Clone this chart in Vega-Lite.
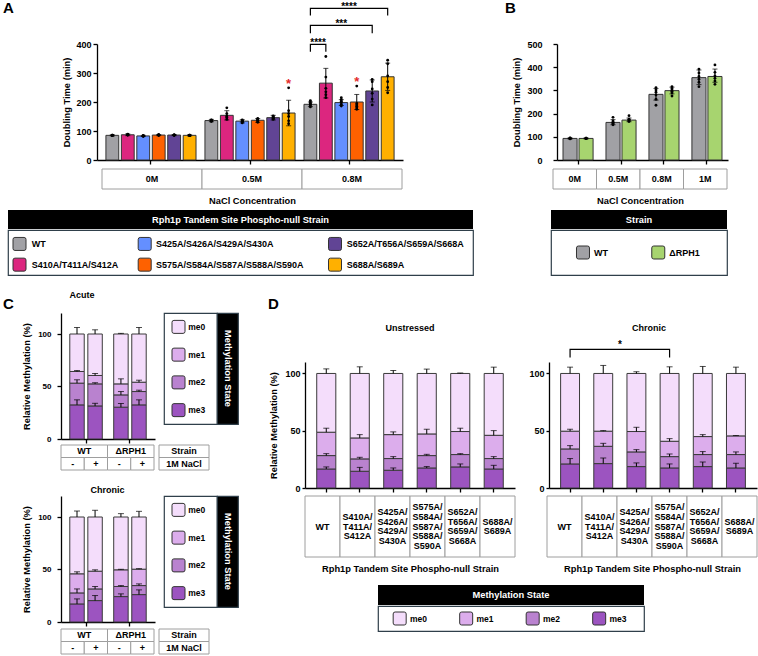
{
"$schema": "https://vega.github.io/schema/vega-lite/v6.json",
"background": "white",
"padding": {"left": 3, "top": 1, "right": 0, "bottom": 0},
"config": {
  "font": "Liberation Sans",
  "view": {"stroke": null},
  "axis": {"labelFont": "Liberation Sans", "titleFont": "Liberation Sans", "labelFontWeight": "bold", "titleFontWeight": "bold", "labelFontSize": 9, "titleFontSize": 9.3, "labelColor": "#000", "titleColor": "#000", "domainColor": "#000", "tickColor": "#000", "domainWidth": 1.3, "tickWidth": 1.3, "grid": false, "labelOverlap": false},
  "title": {"font": "Liberation Sans", "fontWeight": "bold", "fontSize": 9, "color": "#000", "baseline": "alphabetic"},
  "text": {"font": "Liberation Sans", "fontWeight": "bold", "fontSize": 9, "color": "#000"}
},
"datasets": {
  "growthA": [
    {"conc": "0M", "strain": "WT", "mean": 85, "lo": 83, "hi": 87, "reps": [84, 85, 86, 85, 84, 86]},
    {"conc": "0M", "strain": "S410A/T411A/S412A", "mean": 87, "lo": 84, "hi": 90, "reps": [86, 88, 87, 89, 86, 87]},
    {"conc": "0M", "strain": "S425A/S426A/S429A/S430A", "mean": 83, "lo": 81, "hi": 85, "reps": [82, 83, 84, 82, 83, 84]},
    {"conc": "0M", "strain": "S575A/S584A/S587A/S588A/S590A", "mean": 86, "lo": 84, "hi": 88, "reps": [85, 87, 86, 86, 85, 87]},
    {"conc": "0M", "strain": "S652A/T656A/S659A/S668A", "mean": 86, "lo": 84, "hi": 88, "reps": [85, 86, 87, 86, 85, 86]},
    {"conc": "0M", "strain": "S688A/S689A", "mean": 85, "lo": 83, "hi": 87, "reps": [84, 85, 86, 85, 84, 86]},
    {"conc": "0.5M", "strain": "WT", "mean": 136, "lo": 132, "hi": 140, "reps": [133, 135, 137, 138, 136, 134]},
    {"conc": "0.5M", "strain": "S410A/T411A/S412A", "mean": 154, "lo": 138, "hi": 170, "reps": [180, 160, 152, 146, 140, 148]},
    {"conc": "0.5M", "strain": "S425A/S426A/S429A/S430A", "mean": 134, "lo": 128, "hi": 139, "reps": [128, 131, 134, 136, 138, 133]},
    {"conc": "0.5M", "strain": "S575A/S584A/S587A/S588A/S590A", "mean": 137, "lo": 130, "hi": 143, "reps": [130, 133, 137, 140, 143, 138]},
    {"conc": "0.5M", "strain": "S652A/T656A/S659A/S668A", "mean": 146, "lo": 138, "hi": 154, "reps": [140, 144, 147, 150, 152, 143]},
    {"conc": "0.5M", "strain": "S688A/S689A", "mean": 162, "lo": 118, "hi": 206, "reps": [249, 170, 160, 150, 135, 125]},
    {"conc": "0.8M", "strain": "WT", "mean": 192, "lo": 184, "hi": 200, "reps": [183, 188, 192, 196, 200, 205]},
    {"conc": "0.8M", "strain": "S410A/T411A/S412A", "mean": 265, "lo": 214, "hi": 316, "reps": [357, 286, 247, 235, 225, 215]},
    {"conc": "0.8M", "strain": "S425A/S426A/S429A/S430A", "mean": 198, "lo": 188, "hi": 208, "reps": [186, 192, 198, 203, 208, 215]},
    {"conc": "0.8M", "strain": "S575A/S584A/S587A/S588A/S590A", "mean": 200, "lo": 174, "hi": 226, "reps": [255, 195, 190, 185, 180, 175]},
    {"conc": "0.8M", "strain": "S652A/T656A/S659A/S668A", "mean": 238, "lo": 200, "hi": 276, "reps": [278, 270, 245, 230, 210, 190]},
    {"conc": "0.8M", "strain": "S688A/S689A", "mean": 287, "lo": 240, "hi": 334, "reps": [344, 332, 290, 270, 250, 232]}
  ],
  "bracketsA": [
    {"pair": "WT-S410A", "conc": "0.8M", "strain": "WT", "y": 373, "seq": 1},
    {"pair": "WT-S410A", "conc": "0.8M", "strain": "WT", "y": 399, "seq": 2},
    {"pair": "WT-S410A", "conc": "0.8M", "strain": "S410A/T411A/S412A", "y": 399, "seq": 3},
    {"pair": "WT-S410A", "conc": "0.8M", "strain": "S410A/T411A/S412A", "y": 373, "seq": 4},
    {"pair": "WT-S652A", "conc": "0.8M", "strain": "WT", "y": 437, "seq": 1},
    {"pair": "WT-S652A", "conc": "0.8M", "strain": "WT", "y": 464, "seq": 2},
    {"pair": "WT-S652A", "conc": "0.8M", "strain": "S652A/T656A/S659A/S668A", "y": 464, "seq": 3},
    {"pair": "WT-S652A", "conc": "0.8M", "strain": "S652A/T656A/S659A/S668A", "y": 437, "seq": 4},
    {"pair": "WT-S688A", "conc": "0.8M", "strain": "WT", "y": 498, "seq": 1},
    {"pair": "WT-S688A", "conc": "0.8M", "strain": "WT", "y": 523, "seq": 2},
    {"pair": "WT-S688A", "conc": "0.8M", "strain": "S688A/S689A", "y": 523, "seq": 3},
    {"pair": "WT-S688A", "conc": "0.8M", "strain": "S688A/S689A", "y": 498, "seq": 4}
  ],
  "sigA": [
    {"conc": "0.8M", "strain": "WT", "y": 399, "label": "****"},
    {"conc": "0.8M", "strain": "S425A/S426A/S429A/S430A", "y": 464, "label": "***"},
    {"conc": "0.8M", "strain": "S425A/S426A/S429A/S430A", "y": 523, "label": "****"}
  ],
  "starsA": [
    {"conc": "0.5M", "strain": "S688A/S689A", "y": 250},
    {"conc": "0.8M", "strain": "S575A/S584A/S587A/S588A/S590A", "y": 255}
  ],
  "growthB": [
    {"conc": "0M", "strain": "WT", "mean": 93, "lo": 91, "hi": 95, "reps": [91, 92, 93, 94, 93, 95]},
    {"conc": "0M", "strain": "ΔRPH1", "mean": 93, "lo": 91, "hi": 95, "reps": [92, 93, 94, 93, 92, 94]},
    {"conc": "0.5M", "strain": "WT", "mean": 162, "lo": 152, "hi": 174, "reps": [152, 157, 160, 163, 168, 184]},
    {"conc": "0.5M", "strain": "ΔRPH1", "mean": 172, "lo": 165, "hi": 181, "reps": [166, 169, 172, 174, 176, 191]},
    {"conc": "0.8M", "strain": "WT", "mean": 283, "lo": 258, "hi": 308, "reps": [236, 262, 280, 292, 302, 312]},
    {"conc": "0.8M", "strain": "ΔRPH1", "mean": 299, "lo": 285, "hi": 314, "reps": [276, 290, 296, 302, 308, 316]},
    {"conc": "1M", "strain": "WT", "mean": 355, "lo": 325, "hi": 388, "reps": [316, 335, 348, 360, 375, 392]},
    {"conc": "1M", "strain": "ΔRPH1", "mean": 360, "lo": 335, "hi": 392, "reps": [326, 340, 352, 362, 378, 410]}
  ],
  "concA": [{"conc": "0M"}, {"conc": "0.5M"}, {"conc": "0.8M"}],
  "concB": [{"conc": "0M"}, {"conc": "0.5M"}, {"conc": "0.8M"}, {"conc": "1M"}],
  "strainsA": [
    {"strain": "WT"}, {"strain": "S410A/T411A/S412A"}, {"strain": "S425A/S426A/S429A/S430A"},
    {"strain": "S575A/S584A/S587A/S588A/S590A"}, {"strain": "S652A/T656A/S659A/S668A"}, {"strain": "S688A/S689A"}
  ],
  "strainsB": [{"strain": "WT"}, {"strain": "ΔRPH1"}],
  "states": [{"state": "me0"}, {"state": "me1"}, {"state": "me2"}, {"state": "me3"}],
  "methC": [
    {"stress": "Acute", "strain": "WT", "nacl": "-", "state": "me3", "lo": 0, "hi": 32.5, "err": 37.3},
    {"stress": "Acute", "strain": "WT", "nacl": "-", "state": "me2", "lo": 32.5, "hi": 53.2, "err": 56.4},
    {"stress": "Acute", "strain": "WT", "nacl": "-", "state": "me1", "lo": 53.2, "hi": 64.3, "err": 65.2},
    {"stress": "Acute", "strain": "WT", "nacl": "-", "state": "me0", "lo": 64.3, "hi": 100, "err": 106.2},
    {"stress": "Acute", "strain": "WT", "nacl": "+", "state": "me3", "lo": 0, "hi": 31.5, "err": 34},
    {"stress": "Acute", "strain": "WT", "nacl": "+", "state": "me2", "lo": 31.5, "hi": 52.5, "err": 53.6},
    {"stress": "Acute", "strain": "WT", "nacl": "+", "state": "me1", "lo": 52.5, "hi": 60.5, "err": 62.4},
    {"stress": "Acute", "strain": "WT", "nacl": "+", "state": "me0", "lo": 60.5, "hi": 100, "err": 104},
    {"stress": "Acute", "strain": "ΔRPH1", "nacl": "-", "state": "me3", "lo": 0, "hi": 30.3, "err": 33.8},
    {"stress": "Acute", "strain": "ΔRPH1", "nacl": "-", "state": "me2", "lo": 30.3, "hi": 42, "err": 45.2},
    {"stress": "Acute", "strain": "ΔRPH1", "nacl": "-", "state": "me1", "lo": 42, "hi": 52.5, "err": 57.3},
    {"stress": "Acute", "strain": "ΔRPH1", "nacl": "-", "state": "me0", "lo": 52.5, "hi": 100, "err": 100.6},
    {"stress": "Acute", "strain": "ΔRPH1", "nacl": "+", "state": "me3", "lo": 0, "hi": 32.5, "err": 37.3},
    {"stress": "Acute", "strain": "ΔRPH1", "nacl": "+", "state": "me2", "lo": 32.5, "hi": 45.2, "err": 46.5},
    {"stress": "Acute", "strain": "ΔRPH1", "nacl": "+", "state": "me1", "lo": 45.2, "hi": 54.1, "err": 56},
    {"stress": "Acute", "strain": "ΔRPH1", "nacl": "+", "state": "me0", "lo": 54.1, "hi": 100, "err": 106.2},
    {"stress": "Chronic", "strain": "WT", "nacl": "-", "state": "me3", "lo": 0, "hi": 17.2, "err": 22},
    {"stress": "Chronic", "strain": "WT", "nacl": "-", "state": "me2", "lo": 17.2, "hi": 27.7, "err": 31.5},
    {"stress": "Chronic", "strain": "WT", "nacl": "-", "state": "me1", "lo": 27.7, "hi": 45.9, "err": 47.8},
    {"stress": "Chronic", "strain": "WT", "nacl": "-", "state": "me0", "lo": 45.9, "hi": 100, "err": 105.7},
    {"stress": "Chronic", "strain": "WT", "nacl": "+", "state": "me3", "lo": 0, "hi": 20.4, "err": 25.2},
    {"stress": "Chronic", "strain": "WT", "nacl": "+", "state": "me2", "lo": 20.4, "hi": 31.5, "err": 33.8},
    {"stress": "Chronic", "strain": "WT", "nacl": "+", "state": "me1", "lo": 31.5, "hi": 48.4, "err": 49.7},
    {"stress": "Chronic", "strain": "WT", "nacl": "+", "state": "me0", "lo": 48.4, "hi": 100, "err": 106.4},
    {"stress": "Chronic", "strain": "ΔRPH1", "nacl": "-", "state": "me3", "lo": 0, "hi": 24.2, "err": 26.8},
    {"stress": "Chronic", "strain": "ΔRPH1", "nacl": "-", "state": "me2", "lo": 24.2, "hi": 33.8, "err": 34.7},
    {"stress": "Chronic", "strain": "ΔRPH1", "nacl": "-", "state": "me1", "lo": 33.8, "hi": 49.7, "err": 50.2},
    {"stress": "Chronic", "strain": "ΔRPH1", "nacl": "-", "state": "me0", "lo": 49.7, "hi": 100, "err": 103.2},
    {"stress": "Chronic", "strain": "ΔRPH1", "nacl": "+", "state": "me3", "lo": 0, "hi": 26.1, "err": 30.6},
    {"stress": "Chronic", "strain": "ΔRPH1", "nacl": "+", "state": "me2", "lo": 26.1, "hi": 34.7, "err": 36.3},
    {"stress": "Chronic", "strain": "ΔRPH1", "nacl": "+", "state": "me1", "lo": 34.7, "hi": 50.3, "err": 50.8},
    {"stress": "Chronic", "strain": "ΔRPH1", "nacl": "+", "state": "me0", "lo": 50.3, "hi": 100, "err": 105.4}
  ],
  "condC": [
    {"strain": "WT", "nacl": "-"}, {"strain": "WT", "nacl": "+"},
    {"strain": "ΔRPH1", "nacl": "-"}, {"strain": "ΔRPH1", "nacl": "+"}
  ],
  "levelsC": [{"level": "Strain"}, {"level": "1M NaCl"}],
  "methD": [
    {"stress": "Unstressed", "strain": "WT", "state": "me3", "lo": 0, "hi": 16.6, "err": 18.4},
    {"stress": "Unstressed", "strain": "WT", "state": "me2", "lo": 16.6, "hi": 28.3, "err": 30},
    {"stress": "Unstressed", "strain": "WT", "state": "me1", "lo": 28.3, "hi": 48.7, "err": 52.2},
    {"stress": "Unstressed", "strain": "WT", "state": "me0", "lo": 48.7, "hi": 100, "err": 104},
    {"stress": "Unstressed", "strain": "S410A/T411A/S412A", "state": "me3", "lo": 0, "hi": 14.6, "err": 18},
    {"stress": "Unstressed", "strain": "S410A/T411A/S412A", "state": "me2", "lo": 14.6, "hi": 25.4, "err": 26.8},
    {"stress": "Unstressed", "strain": "S410A/T411A/S412A", "state": "me1", "lo": 25.4, "hi": 43.7, "err": 46.6},
    {"stress": "Unstressed", "strain": "S410A/T411A/S412A", "state": "me0", "lo": 43.7, "hi": 100, "err": 105.8},
    {"stress": "Unstressed", "strain": "S425A/S426A/S429A/S430A", "state": "me3", "lo": 0, "hi": 15.5, "err": 17.5},
    {"stress": "Unstressed", "strain": "S425A/S426A/S429A/S430A", "state": "me2", "lo": 15.5, "hi": 25.7, "err": 27.4},
    {"stress": "Unstressed", "strain": "S425A/S426A/S429A/S430A", "state": "me1", "lo": 25.7, "hi": 46.6, "err": 49},
    {"stress": "Unstressed", "strain": "S425A/S426A/S429A/S430A", "state": "me0", "lo": 46.6, "hi": 100, "err": 102.6},
    {"stress": "Unstressed", "strain": "S575A/S584A/S587A/S588A/S590A", "state": "me3", "lo": 0, "hi": 17.5, "err": 18.7},
    {"stress": "Unstressed", "strain": "S575A/S584A/S587A/S588A/S590A", "state": "me2", "lo": 17.5, "hi": 28.3, "err": 29.4},
    {"stress": "Unstressed", "strain": "S575A/S584A/S587A/S588A/S590A", "state": "me1", "lo": 28.3, "hi": 47.2, "err": 51.3},
    {"stress": "Unstressed", "strain": "S575A/S584A/S587A/S588A/S590A", "state": "me0", "lo": 47.2, "hi": 100, "err": 103.8},
    {"stress": "Unstressed", "strain": "S652A/T656A/S659A/S668A", "state": "me3", "lo": 0, "hi": 18.4, "err": 21},
    {"stress": "Unstressed", "strain": "S652A/T656A/S659A/S668A", "state": "me2", "lo": 18.4, "hi": 29.2, "err": 30},
    {"stress": "Unstressed", "strain": "S652A/T656A/S659A/S668A", "state": "me1", "lo": 29.2, "hi": 49.3, "err": 52.2},
    {"stress": "Unstressed", "strain": "S652A/T656A/S659A/S668A", "state": "me0", "lo": 49.3, "hi": 100, "err": 100.4},
    {"stress": "Unstressed", "strain": "S688A/S689A", "state": "me3", "lo": 0, "hi": 16.6, "err": 19.8},
    {"stress": "Unstressed", "strain": "S688A/S689A", "state": "me2", "lo": 16.6, "hi": 25.7, "err": 27.4},
    {"stress": "Unstressed", "strain": "S688A/S689A", "state": "me1", "lo": 25.7, "hi": 46, "err": 50.1},
    {"stress": "Unstressed", "strain": "S688A/S689A", "state": "me0", "lo": 46, "hi": 100, "err": 105.5},
    {"stress": "Chronic", "strain": "WT", "state": "me3", "lo": 0, "hi": 21, "err": 25.7},
    {"stress": "Chronic", "strain": "WT", "state": "me2", "lo": 21, "hi": 34.1, "err": 37},
    {"stress": "Chronic", "strain": "WT", "state": "me1", "lo": 34.1, "hi": 49.6, "err": 51.3},
    {"stress": "Chronic", "strain": "WT", "state": "me0", "lo": 49.6, "hi": 100, "err": 105.5},
    {"stress": "Chronic", "strain": "S410A/T411A/S412A", "state": "me3", "lo": 0, "hi": 21.3, "err": 26.2},
    {"stress": "Chronic", "strain": "S410A/T411A/S412A", "state": "me2", "lo": 21.3, "hi": 36.4, "err": 39},
    {"stress": "Chronic", "strain": "S410A/T411A/S412A", "state": "me1", "lo": 36.4, "hi": 49.6, "err": 50.1},
    {"stress": "Chronic", "strain": "S410A/T411A/S412A", "state": "me0", "lo": 49.6, "hi": 100, "err": 107},
    {"stress": "Chronic", "strain": "S425A/S426A/S429A/S430A", "state": "me3", "lo": 0, "hi": 18.7, "err": 21.9},
    {"stress": "Chronic", "strain": "S425A/S426A/S429A/S430A", "state": "me2", "lo": 18.7, "hi": 31.5, "err": 33.5},
    {"stress": "Chronic", "strain": "S425A/S426A/S429A/S430A", "state": "me1", "lo": 31.5, "hi": 49.3, "err": 53},
    {"stress": "Chronic", "strain": "S425A/S426A/S429A/S430A", "state": "me0", "lo": 49.3, "hi": 100, "err": 101.5},
    {"stress": "Chronic", "strain": "S575A/S584A/S587A/S588A/S590A", "state": "me3", "lo": 0, "hi": 17.5, "err": 21},
    {"stress": "Chronic", "strain": "S575A/S584A/S587A/S588A/S590A", "state": "me2", "lo": 17.5, "hi": 27.4, "err": 29.7},
    {"stress": "Chronic", "strain": "S575A/S584A/S587A/S588A/S590A", "state": "me1", "lo": 27.4, "hi": 40.8, "err": 43.1},
    {"stress": "Chronic", "strain": "S575A/S584A/S587A/S588A/S590A", "state": "me0", "lo": 40.8, "hi": 100, "err": 105.8},
    {"stress": "Chronic", "strain": "S652A/T656A/S659A/S668A", "state": "me3", "lo": 0, "hi": 18.7, "err": 22.7},
    {"stress": "Chronic", "strain": "S652A/T656A/S659A/S668A", "state": "me2", "lo": 18.7, "hi": 29.2, "err": 31.8},
    {"stress": "Chronic", "strain": "S652A/T656A/S659A/S668A", "state": "me1", "lo": 29.2, "hi": 44.9, "err": 46.6},
    {"stress": "Chronic", "strain": "S652A/T656A/S659A/S668A", "state": "me0", "lo": 44.9, "hi": 100, "err": 106.1},
    {"stress": "Chronic", "strain": "S688A/S689A", "state": "me3", "lo": 0, "hi": 17.5, "err": 21.6},
    {"stress": "Chronic", "strain": "S688A/S689A", "state": "me2", "lo": 17.5, "hi": 29.2, "err": 31.5},
    {"stress": "Chronic", "strain": "S688A/S689A", "state": "me1", "lo": 29.2, "hi": 45.5, "err": 45.8},
    {"stress": "Chronic", "strain": "S688A/S689A", "state": "me0", "lo": 45.5, "hi": 100, "err": 105.5}
  ],
  "bracketD": [
    {"strain": "WT", "y": 114, "seq": 1},
    {"strain": "WT", "y": 121, "seq": 2},
    {"strain": "S575A/S584A/S587A/S588A/S590A", "y": 121, "seq": 3},
    {"strain": "S575A/S584A/S587A/S588A/S590A", "y": 114, "seq": 4}
  ],
  "sigD": [{"strain": "S410A/T411A/S412A", "y": 121, "label": "*"}],
  "strainsD": [
    {"strain": "WT", "label": "WT"},
    {"strain": "S410A/T411A/S412A", "label": "S410A/\nT411A/\nS412A"},
    {"strain": "S425A/S426A/S429A/S430A", "label": "S425A/\nS426A/\nS429A/\nS430A"},
    {"strain": "S575A/S584A/S587A/S588A/S590A", "label": "S575A/\nS584A/\nS587A/\nS588A/\nS590A"},
    {"strain": "S652A/T656A/S659A/S668A", "label": "S652A/\nT656A/\nS659A/\nS668A"},
    {"strain": "S688A/S689A", "label": "S688A/\nS689A"}
  ]
},
"vconcat": [
  {"hconcat": [
    {"width": 89, "height": 124, "data": {"values": []}, "mark": "point", "title": {"text": "A", "anchor": "start", "frame": "group", "dx": -5, "offset": 28, "fontSize": 15}},
    {"width": 306, "height": 116,
     "encoding": {
       "x": {"field": "conc", "type": "nominal", "scale": {"domain": ["0M", "0.5M", "0.8M"], "paddingInner": 0.09, "paddingOuter": 0.09}, "axis": {"title": null, "labels": false, "tickSize": 4}},
       "xOffset": {"field": "strain", "type": "nominal", "scale": {"domain": ["WT", "S410A/T411A/S412A", "S425A/S426A/S429A/S430A", "S575A/S584A/S587A/S588A/S590A", "S652A/T656A/S659A/S668A", "S688A/S689A"], "paddingInner": 0.17, "paddingOuter": 0}}
     },
     "layer": [
       {"data": {"name": "growthA"}, "mark": {"type": "bar", "stroke": "#333", "strokeWidth": 1},
        "encoding": {
          "y": {"field": "mean", "type": "quantitative", "scale": {"domain": [0, 400], "nice": false}, "axis": {"values": [0, 100, 200, 300, 400], "labelOverlap": false, "title": "Doubling Time (min)", "tickSize": 4, "labelPadding": 2, "titlePadding": 4}},
          "fill": {"field": "strain", "type": "nominal", "legend": null, "scale": {"domain": ["WT", "S410A/T411A/S412A", "S425A/S426A/S429A/S430A", "S575A/S584A/S587A/S588A/S590A", "S652A/T656A/S659A/S668A", "S688A/S689A"], "range": ["#a1a1a5", "#dc267f", "#648fff", "#fe6100", "#614495", "#ffb000"]}}
        }},
       {"data": {"name": "growthA"}, "mark": {"type": "rule", "color": "#000", "strokeWidth": 1},
        "encoding": {"y": {"field": "lo", "type": "quantitative", "axis": {"values": [0, 100, 200, 300, 400], "labelOverlap": false, "title": "Doubling Time (min)", "tickSize": 4, "labelPadding": 2, "titlePadding": 4}}, "y2": {"field": "hi"}}},
       {"data": {"name": "growthA"}, "mark": {"type": "tick", "color": "#000", "thickness": 1, "size": 5, "orient": "horizontal"},
        "encoding": {"y": {"field": "hi", "type": "quantitative", "axis": {"values": [0, 100, 200, 300, 400], "labelOverlap": false, "title": "Doubling Time (min)", "tickSize": 4, "labelPadding": 2, "titlePadding": 4}}}},
       {"data": {"name": "growthA"}, "mark": {"type": "tick", "color": "#000", "thickness": 1, "size": 5, "orient": "horizontal"},
        "encoding": {"y": {"field": "lo", "type": "quantitative", "axis": {"values": [0, 100, 200, 300, 400], "labelOverlap": false, "title": "Doubling Time (min)", "tickSize": 4, "labelPadding": 2, "titlePadding": 4}}}},
       {"data": {"name": "growthA"}, "transform": [{"flatten": ["reps"]}], "mark": {"type": "point", "filled": true, "color": "#000", "size": 8, "opacity": 1},
        "encoding": {"y": {"field": "reps", "type": "quantitative", "axis": {"values": [0, 100, 200, 300, 400], "labelOverlap": false, "title": "Doubling Time (min)", "tickSize": 4, "labelPadding": 2, "titlePadding": 4}}}},
       {"data": {"name": "bracketsA"}, "mark": {"type": "line", "color": "#000", "strokeWidth": 1.2},
        "encoding": {"y": {"field": "y", "type": "quantitative", "axis": {"values": [0, 100, 200, 300, 400], "labelOverlap": false, "title": "Doubling Time (min)", "tickSize": 4, "labelPadding": 2, "titlePadding": 4}}, "detail": {"field": "pair", "type": "nominal"}, "order": {"field": "seq", "type": "quantitative"}}},
       {"data": {"name": "sigA"}, "transform": [{"filter": {"field": "label", "equal": "****"}}], "mark": {"type": "text", "dx": 7.7, "dy": 2, "fontSize": 10, "baseline": "alphabetic"},
        "encoding": {"y": {"field": "y", "type": "quantitative", "axis": {"values": [0, 100, 200, 300, 400], "labelOverlap": false, "title": "Doubling Time (min)", "tickSize": 4, "labelPadding": 2, "titlePadding": 4}}, "text": {"field": "label", "type": "nominal"}}},
       {"data": {"name": "sigA"}, "transform": [{"filter": {"field": "label", "equal": "***"}}], "mark": {"type": "text", "dy": 2, "fontSize": 10, "baseline": "alphabetic"},
        "encoding": {"y": {"field": "y", "type": "quantitative", "axis": {"values": [0, 100, 200, 300, 400], "labelOverlap": false, "title": "Doubling Time (min)", "tickSize": 4, "labelPadding": 2, "titlePadding": 4}}, "text": {"field": "label", "type": "nominal"}}},
       {"data": {"name": "starsA"}, "mark": {"type": "text", "text": "*", "color": "#e32b2b", "fontSize": 13, "baseline": "alphabetic"},
        "encoding": {"y": {"field": "y", "type": "quantitative", "axis": {"values": [0, 100, 200, 300, 400], "labelOverlap": false, "title": "Doubling Time (min)", "tickSize": 4, "labelPadding": 2, "titlePadding": 4}}}}
     ]},
    {"width": 154, "height": 124, "data": {"values": []}, "mark": "point", "title": {"text": "B", "anchor": "start", "frame": "group", "dx": 102, "offset": 28, "fontSize": 15}},
    {"width": 171, "height": 116,
     "data": {"name": "growthB"},
     "encoding": {
       "x": {"field": "conc", "type": "nominal", "scale": {"domain": ["0M", "0.5M", "0.8M", "1M"], "paddingInner": 0.3, "paddingOuter": 0.14}, "axis": {"title": null, "labels": false, "tickSize": 4}},
       "xOffset": {"field": "strain", "type": "nominal", "scale": {"domain": ["WT", "ΔRPH1"], "paddingInner": 0.12, "paddingOuter": 0}}
     },
     "layer": [
       {"mark": {"type": "bar", "stroke": "#333", "strokeWidth": 1},
        "encoding": {
          "y": {"field": "mean", "type": "quantitative", "scale": {"domain": [0, 500], "nice": false}, "axis": {"values": [0, 100, 200, 300, 400, 500], "labelOverlap": false, "title": "Doubling Time (min)", "tickSize": 4, "labelPadding": 11, "titlePadding": 5}},
          "fill": {"field": "strain", "type": "nominal", "legend": null, "scale": {"domain": ["WT", "ΔRPH1"], "range": ["#a1a1a5", "#a7d46f"]}}
        }},
       {"mark": {"type": "rule", "color": "#000", "strokeWidth": 1}, "encoding": {"y": {"field": "lo", "type": "quantitative", "axis": {"values": [0, 100, 200, 300, 400, 500], "labelOverlap": false, "title": "Doubling Time (min)", "tickSize": 4, "labelPadding": 11, "titlePadding": 5}}, "y2": {"field": "hi"}}},
       {"mark": {"type": "tick", "color": "#000", "thickness": 1, "size": 5, "orient": "horizontal"}, "encoding": {"y": {"field": "hi", "type": "quantitative", "axis": {"values": [0, 100, 200, 300, 400, 500], "labelOverlap": false, "title": "Doubling Time (min)", "tickSize": 4, "labelPadding": 11, "titlePadding": 5}}}},
       {"mark": {"type": "tick", "color": "#000", "thickness": 1, "size": 5, "orient": "horizontal"}, "encoding": {"y": {"field": "lo", "type": "quantitative", "axis": {"values": [0, 100, 200, 300, 400, 500], "labelOverlap": false, "title": "Doubling Time (min)", "tickSize": 4, "labelPadding": 11, "titlePadding": 5}}}},
       {"transform": [{"flatten": ["reps"]}], "mark": {"type": "point", "filled": true, "color": "#000", "size": 8, "opacity": 1}, "encoding": {"y": {"field": "reps", "type": "quantitative", "axis": {"values": [0, 100, 200, 300, 400, 500], "labelOverlap": false, "title": "Doubling Time (min)", "tickSize": 4, "labelPadding": 11, "titlePadding": 5}}}}
     ]}
  ], "spacing": 0, "bounds": "flush", "resolve": {"scale": {"fill": "independent", "xOffset": "independent"}}},
  {"hconcat": [
    {"width": 94, "height": 41, "data": {"values": []}, "mark": "point"},
    {"width": 300, "height": 20, "data": {"name": "concA"},
     "encoding": {"x": {"field": "conc", "type": "nominal", "sort": null, "scale": {"paddingInner": 0, "paddingOuter": 0}, "axis": {"title": "NaCl Concentration", "labels": false, "ticks": false, "domain": false, "titlePadding": 7}}},
     "layer": [
       {"mark": {"type": "rect", "fill": "#fff", "stroke": "#9e9e9e", "strokeWidth": 1}},
       {"mark": {"type": "text", "align": "center", "baseline": "middle"}, "encoding": {"text": {"field": "conc", "type": "nominal"}}}
     ]},
    {"width": 151, "height": 41, "data": {"values": []}, "mark": "point"},
    {"width": 174, "height": 20, "data": {"name": "concB"},
     "encoding": {"x": {"field": "conc", "type": "nominal", "sort": null, "scale": {"paddingInner": 0, "paddingOuter": 0}, "axis": {"title": "NaCl Concentration", "labels": false, "ticks": false, "domain": false, "titlePadding": 7}}},
     "layer": [
       {"mark": {"type": "rect", "fill": "#fff", "stroke": "#9e9e9e", "strokeWidth": 1}},
       {"mark": {"type": "text", "align": "center", "baseline": "middle"}, "encoding": {"text": {"field": "conc", "type": "nominal"}}}
     ]}
  ], "spacing": 0, "bounds": "flush"},
  {"hconcat": [
    {"width": 465, "height": 19, "view": {"fill": "#000", "stroke": null},
     "data": {"values": [{"heading": "Rph1p Tandem Site Phospho-null Strain"}]},
     "mark": {"type": "text", "color": "#fff", "align": "center", "baseline": "middle", "fontSize": 9.3},
     "encoding": {"text": {"field": "heading", "type": "nominal"}}},
    {"width": 78, "height": 19, "data": {"values": []}, "mark": "point"},
    {"width": 176, "height": 19, "view": {"fill": "#000", "stroke": null},
     "data": {"values": [{"heading": "Strain"}]},
     "mark": {"type": "text", "color": "#fff", "align": "center", "baseline": "middle", "fontSize": 9.3},
     "encoding": {"text": {"field": "heading", "type": "nominal"}}}
  ], "spacing": 0, "bounds": "flush"},
  {"hconcat": [
    {"width": 465, "height": 45, "view": {"fill": "#fff", "stroke": "#2f3f4a", "strokeWidth": 1.2},
     "data": {"name": "strainsA"},
     "layer": [
       {"transform": [{"filter": {"field": "strain", "oneOf": ["WT", "S410A/T411A/S412A"]}}],
        "encoding": {"y": {"field": "strain", "type": "nominal", "scale": {"type": "band", "domain": ["WT", "S410A/T411A/S412A"], "paddingInner": 0, "paddingOuter": 0.087, "align": 1}, "axis": null}},
        "layer": [
          {"mark": {"type": "point", "shape": "M-0.7,-1H0.7Q1,-1,1,-0.7V0.7Q1,1,0.7,1H-0.7Q-1,1,-1,0.7V-0.7Q-1,-1,-0.7,-1Z", "size": 169, "filled": true, "opacity": 1, "stroke": "#333", "strokeWidth": 1, "xOffset": -221},
           "encoding": {"fill": {"field": "strain", "type": "nominal", "legend": null, "scale": {"domain": ["WT", "S410A/T411A/S412A", "S425A/S426A/S429A/S430A", "S575A/S584A/S587A/S588A/S590A", "S652A/T656A/S659A/S668A", "S688A/S689A"], "range": ["#a1a1a5", "#dc267f", "#648fff", "#fe6100", "#614495", "#ffb000"]}}}},
          {"mark": {"type": "text", "align": "left", "baseline": "middle", "dx": -208.8}, "encoding": {"text": {"field": "strain", "type": "nominal"}}}
        ]},
       {"transform": [{"filter": {"field": "strain", "oneOf": ["S425A/S426A/S429A/S430A", "S575A/S584A/S587A/S588A/S590A"]}}],
        "encoding": {"y": {"field": "strain", "type": "nominal", "scale": {"type": "band", "domain": ["S425A/S426A/S429A/S430A", "S575A/S584A/S587A/S588A/S590A"], "paddingInner": 0, "paddingOuter": 0.087, "align": 1}, "axis": null}},
        "layer": [
          {"mark": {"type": "point", "shape": "M-0.7,-1H0.7Q1,-1,1,-0.7V0.7Q1,1,0.7,1H-0.7Q-1,1,-1,0.7V-0.7Q-1,-1,-0.7,-1Z", "size": 169, "filled": true, "opacity": 1, "stroke": "#333", "strokeWidth": 1, "xOffset": -95.8},
           "encoding": {"fill": {"field": "strain", "type": "nominal", "legend": null, "scale": {"domain": ["WT", "S410A/T411A/S412A", "S425A/S426A/S429A/S430A", "S575A/S584A/S587A/S588A/S590A", "S652A/T656A/S659A/S668A", "S688A/S689A"], "range": ["#a1a1a5", "#dc267f", "#648fff", "#fe6100", "#614495", "#ffb000"]}}}},
          {"mark": {"type": "text", "align": "left", "baseline": "middle", "dx": -84.5}, "encoding": {"text": {"field": "strain", "type": "nominal"}}}
        ]},
       {"transform": [{"filter": {"field": "strain", "oneOf": ["S652A/T656A/S659A/S668A", "S688A/S689A"]}}],
        "encoding": {"y": {"field": "strain", "type": "nominal", "scale": {"type": "band", "domain": ["S652A/T656A/S659A/S668A", "S688A/S689A"], "paddingInner": 0, "paddingOuter": 0.087, "align": 1}, "axis": null}},
        "layer": [
          {"mark": {"type": "point", "shape": "M-0.7,-1H0.7Q1,-1,1,-0.7V0.7Q1,1,0.7,1H-0.7Q-1,1,-1,0.7V-0.7Q-1,-1,-0.7,-1Z", "size": 169, "filled": true, "opacity": 1, "stroke": "#333", "strokeWidth": 1, "xOffset": 94.5},
           "encoding": {"fill": {"field": "strain", "type": "nominal", "legend": null, "scale": {"domain": ["WT", "S410A/T411A/S412A", "S425A/S426A/S429A/S430A", "S575A/S584A/S587A/S588A/S590A", "S652A/T656A/S659A/S668A", "S688A/S689A"], "range": ["#a1a1a5", "#dc267f", "#648fff", "#fe6100", "#614495", "#ffb000"]}}}},
          {"mark": {"type": "text", "align": "left", "baseline": "middle", "dx": 106.2}, "encoding": {"text": {"field": "strain", "type": "nominal"}}}
        ]}
     ],
     "resolve": {"scale": {"y": "independent"}}},
    {"width": 78, "height": 45, "data": {"values": []}, "mark": "point"},
    {"width": 176, "height": 45, "view": {"fill": "#fff", "stroke": "#2f3f4a", "strokeWidth": 1.2},
     "data": {"name": "strainsB"},
     "encoding": {"x": {"field": "strain", "type": "nominal", "bandPosition": 0.256, "scale": {"type": "band", "domain": ["WT", "ΔRPH1"], "paddingInner": 0, "paddingOuter": 0.169}, "axis": null}},
     "layer": [
       {"mark": {"type": "point", "shape": "M-0.7,-1H0.7Q1,-1,1,-0.7V0.7Q1,1,0.7,1H-0.7Q-1,1,-1,0.7V-0.7Q-1,-1,-0.7,-1Z", "size": 169, "filled": true, "opacity": 1, "stroke": "#333", "strokeWidth": 1},
        "encoding": {"fill": {"field": "strain", "type": "nominal", "legend": null, "scale": {"domain": ["WT", "ΔRPH1"], "range": ["#a1a1a5", "#a7d46f"]}}}},
       {"mark": {"type": "text", "align": "left", "baseline": "middle", "dx": 11}, "encoding": {"text": {"field": "strain", "type": "nominal"}}}
     ]}
  ], "spacing": 0, "bounds": "flush", "resolve": {"scale": {"fill": "independent"}}},
  {"width": 1, "height": 13, "data": {"values": []}, "mark": "point"},
  {"hconcat": [
    {"vconcat": [
      {"hconcat": [
        {"width": 53, "height": 1, "data": {"values": []}, "mark": "point", "title": {"text": "C", "orient": "bottom", "anchor": "start", "frame": "group", "dx": -5, "offset": 6.5, "fontSize": 15}},
        {"width": 94, "height": 1, "data": {"values": []}, "mark": "point", "title": {"text": "Acute", "orient": "bottom", "dx": -26, "offset": 0.6}},
        {"width": 1, "height": 23, "data": {"values": []}, "mark": "point"}
      ], "spacing": 0, "bounds": "flush"},
      {"hconcat": [
        {"width": 53, "height": 131, "data": {"values": []}, "mark": "point"},
        {"width": 94, "height": 126,
         "data": {"name": "methC"},
         "transform": [{"filter": {"field": "stress", "equal": "Acute"}}],
         "encoding": {
           "x": {"field": "strain", "type": "nominal", "scale": {"domain": ["WT", "ΔRPH1"], "paddingInner": 0.26, "paddingOuter": 0.2}, "axis": {"title": null, "labels": false, "tickSize": 4}},
           "xOffset": {"field": "nacl", "type": "nominal", "scale": {"domain": ["-", "+"], "paddingInner": 0.2, "paddingOuter": 0}}
         },
         "layer": [
           {"mark": {"type": "bar", "stroke": "#3a3a3a", "strokeWidth": 1},
            "encoding": {
              "y": {"field": "hi", "type": "quantitative", "stack": null, "scale": {"domain": [0, 120], "nice": false}, "axis": {"values": [0, 50, 100], "title": "Relative Methylation (%)", "labelFontSize": 8, "tickSize": 4, "labelPadding": 6, "titlePadding": 6}},
              "y2": {"field": "lo"},
              "fill": {"field": "state", "type": "nominal", "legend": null, "scale": {"domain": ["me0", "me1", "me2", "me3"], "range": ["#f4ddfb", "#dcadec", "#b982cf", "#9c54c0"]}}
            }},
           {"mark": {"type": "rule", "color": "#000", "strokeWidth": 1}, "encoding": {"y": {"field": "hi", "type": "quantitative"}, "y2": {"field": "err"}}},
           {"mark": {"type": "tick", "color": "#000", "thickness": 1, "size": 6, "orient": "horizontal"}, "encoding": {"y": {"field": "err", "type": "quantitative"}}}
         ]},
        {"width": 9, "height": 1, "data": {"values": []}, "mark": "point"},
        {"width": 53, "height": 111, "view": {"fill": "#fff", "stroke": "#2f3f4a", "strokeWidth": 1.2},
         "data": {"name": "states"},
         "encoding": {"y": {"field": "state", "type": "nominal", "scale": {"type": "band", "domain": ["me0", "me1", "me2", "me3"], "paddingInner": 0, "paddingOuter": 0}, "axis": null}},
         "layer": [
           {"mark": {"type": "point", "shape": "M-0.7,-1H0.7Q1,-1,1,-0.7V0.7Q1,1,0.7,1H-0.7Q-1,1,-1,0.7V-0.7Q-1,-1,-0.7,-1Z", "size": 169, "filled": true, "opacity": 1, "stroke": "#333", "strokeWidth": 1, "xOffset": -12},
            "encoding": {"fill": {"field": "state", "type": "nominal", "legend": null, "scale": {"domain": ["me0", "me1", "me2", "me3"], "range": ["#f4ddfb", "#dcadec", "#b982cf", "#9c54c0"]}}}},
           {"mark": {"type": "text", "align": "left", "baseline": "middle", "dx": -2.2, "fontSize": 8.5}, "encoding": {"text": {"field": "state", "type": "nominal"}}}
         ]},
        {"width": 21, "height": 111, "view": {"fill": "#000", "stroke": "#2f3f4a", "strokeWidth": 1.2},
         "data": {"values": [{"heading": "Methylation State"}]},
         "mark": {"type": "text", "angle": 90, "color": "#fff", "align": "center", "baseline": "middle", "fontSize": 9.3},
         "encoding": {"text": {"field": "heading", "type": "nominal"}}}
      ], "spacing": 0, "bounds": "flush", "resolve": {"scale": {"xOffset": "independent"}}},
      {"hconcat": [
        {"width": 53, "height": 50, "data": {"values": []}, "mark": "point"},
        {"width": 93, "height": 25, "data": {"name": "condC"},
         "title": {"text": "Chronic", "orient": "bottom", "offset": 15},
         "encoding": {"x": {"field": "strain", "type": "nominal", "scale": {"domain": ["WT", "ΔRPH1"], "paddingInner": 0, "paddingOuter": 0}, "axis": null}},
         "layer": [
           {"transform": [{"filter": {"field": "nacl", "equal": "-"}}],
            "encoding": {"y": {"datum": "Strain", "type": "nominal", "scale": {"domain": ["Strain", "1M NaCl"], "paddingInner": 0, "paddingOuter": 0}, "axis": null}},
            "layer": [
              {"mark": {"type": "rect", "fill": "#fff", "stroke": "#9e9e9e", "strokeWidth": 1}},
              {"mark": {"type": "text", "align": "center", "baseline": "middle"}, "encoding": {"text": {"field": "strain", "type": "nominal"}}}
            ]},
           {"encoding": {"xOffset": {"field": "nacl", "type": "nominal", "scale": {"domain": ["-", "+"], "paddingInner": 0, "paddingOuter": 0}}, "y": {"datum": "1M NaCl", "type": "nominal"}},
            "layer": [
              {"mark": {"type": "rect", "fill": "#fff", "stroke": "#9e9e9e", "strokeWidth": 1}},
              {"mark": {"type": "text", "align": "center", "baseline": "middle"}, "encoding": {"text": {"field": "nacl", "type": "nominal"}}}
            ]}
         ]},
        {"width": 5, "height": 1, "data": {"values": []}, "mark": "point"},
        {"width": 50, "height": 25, "data": {"name": "levelsC"},
         "encoding": {"y": {"field": "level", "type": "nominal", "scale": {"domain": ["Strain", "1M NaCl"], "paddingInner": 0, "paddingOuter": 0}, "axis": null}},
         "layer": [
           {"mark": {"type": "rect", "fill": "#fff", "stroke": "#9e9e9e", "strokeWidth": 1}},
           {"mark": {"type": "text", "align": "center", "baseline": "middle"}, "encoding": {"text": {"field": "level", "type": "nominal"}}}
         ]}
      ], "spacing": 0, "bounds": "flush", "resolve": {"scale": {"xOffset": "independent"}}},
      {"hconcat": [
        {"width": 53, "height": 132, "data": {"values": []}, "mark": "point"},
        {"width": 94, "height": 126,
         "data": {"name": "methC"},
         "transform": [{"filter": {"field": "stress", "equal": "Chronic"}}],
         "encoding": {
           "x": {"field": "strain", "type": "nominal", "scale": {"domain": ["WT", "ΔRPH1"], "paddingInner": 0.26, "paddingOuter": 0.2}, "axis": {"title": null, "labels": false, "tickSize": 4}},
           "xOffset": {"field": "nacl", "type": "nominal", "scale": {"domain": ["-", "+"], "paddingInner": 0.2, "paddingOuter": 0}}
         },
         "layer": [
           {"mark": {"type": "bar", "stroke": "#3a3a3a", "strokeWidth": 1},
            "encoding": {
              "y": {"field": "hi", "type": "quantitative", "stack": null, "scale": {"domain": [0, 120], "nice": false}, "axis": {"values": [0, 50, 100], "title": "Relative Methylation (%)", "labelFontSize": 8, "tickSize": 4, "labelPadding": 6, "titlePadding": 6}},
              "y2": {"field": "lo"},
              "fill": {"field": "state", "type": "nominal", "legend": null, "scale": {"domain": ["me0", "me1", "me2", "me3"], "range": ["#f4ddfb", "#dcadec", "#b982cf", "#9c54c0"]}}
            }},
           {"mark": {"type": "rule", "color": "#000", "strokeWidth": 1}, "encoding": {"y": {"field": "hi", "type": "quantitative"}, "y2": {"field": "err"}}},
           {"mark": {"type": "tick", "color": "#000", "thickness": 1, "size": 6, "orient": "horizontal"}, "encoding": {"y": {"field": "err", "type": "quantitative"}}}
         ]},
        {"width": 9, "height": 1, "data": {"values": []}, "mark": "point"},
        {"width": 53, "height": 111, "view": {"fill": "#fff", "stroke": "#2f3f4a", "strokeWidth": 1.2},
         "data": {"name": "states"},
         "encoding": {"y": {"field": "state", "type": "nominal", "scale": {"type": "band", "domain": ["me0", "me1", "me2", "me3"], "paddingInner": 0, "paddingOuter": 0}, "axis": null}},
         "layer": [
           {"mark": {"type": "point", "shape": "M-0.7,-1H0.7Q1,-1,1,-0.7V0.7Q1,1,0.7,1H-0.7Q-1,1,-1,0.7V-0.7Q-1,-1,-0.7,-1Z", "size": 169, "filled": true, "opacity": 1, "stroke": "#333", "strokeWidth": 1, "xOffset": -12},
            "encoding": {"fill": {"field": "state", "type": "nominal", "legend": null, "scale": {"domain": ["me0", "me1", "me2", "me3"], "range": ["#f4ddfb", "#dcadec", "#b982cf", "#9c54c0"]}}}},
           {"mark": {"type": "text", "align": "left", "baseline": "middle", "dx": -2.2, "fontSize": 8.5}, "encoding": {"text": {"field": "state", "type": "nominal"}}}
         ]},
        {"width": 21, "height": 111, "view": {"fill": "#000", "stroke": "#2f3f4a", "strokeWidth": 1.2},
         "data": {"values": [{"heading": "Methylation State"}]},
         "mark": {"type": "text", "angle": 90, "color": "#fff", "align": "center", "baseline": "middle", "fontSize": 9.3},
         "encoding": {"text": {"field": "heading", "type": "nominal"}}}
      ], "spacing": 0, "bounds": "flush", "resolve": {"scale": {"xOffset": "independent"}}},
      {"hconcat": [
        {"width": 53, "height": 25, "data": {"values": []}, "mark": "point"},
        {"width": 93, "height": 25, "data": {"name": "condC"},
         "encoding": {"x": {"field": "strain", "type": "nominal", "scale": {"domain": ["WT", "ΔRPH1"], "paddingInner": 0, "paddingOuter": 0}, "axis": null}},
         "layer": [
           {"transform": [{"filter": {"field": "nacl", "equal": "-"}}],
            "encoding": {"y": {"datum": "Strain", "type": "nominal", "scale": {"domain": ["Strain", "1M NaCl"], "paddingInner": 0, "paddingOuter": 0}, "axis": null}},
            "layer": [
              {"mark": {"type": "rect", "fill": "#fff", "stroke": "#9e9e9e", "strokeWidth": 1}},
              {"mark": {"type": "text", "align": "center", "baseline": "middle"}, "encoding": {"text": {"field": "strain", "type": "nominal"}}}
            ]},
           {"encoding": {"xOffset": {"field": "nacl", "type": "nominal", "scale": {"domain": ["-", "+"], "paddingInner": 0, "paddingOuter": 0}}, "y": {"datum": "1M NaCl", "type": "nominal"}},
            "layer": [
              {"mark": {"type": "rect", "fill": "#fff", "stroke": "#9e9e9e", "strokeWidth": 1}},
              {"mark": {"type": "text", "align": "center", "baseline": "middle"}, "encoding": {"text": {"field": "nacl", "type": "nominal"}}}
            ]}
         ]},
        {"width": 5, "height": 1, "data": {"values": []}, "mark": "point"},
        {"width": 50, "height": 25, "data": {"name": "levelsC"},
         "encoding": {"y": {"field": "level", "type": "nominal", "scale": {"domain": ["Strain", "1M NaCl"], "paddingInner": 0, "paddingOuter": 0}, "axis": null}},
         "layer": [
           {"mark": {"type": "rect", "fill": "#fff", "stroke": "#9e9e9e", "strokeWidth": 1}},
           {"mark": {"type": "text", "align": "center", "baseline": "middle"}, "encoding": {"text": {"field": "level", "type": "nominal"}}}
         ]}
      ], "spacing": 0, "bounds": "flush", "resolve": {"scale": {"xOffset": "independent"}}}
    ], "spacing": 0, "resolve": {"scale": {"xOffset": "independent"}}},
    {"vconcat": [
      {"hconcat": [
        {"width": 66, "height": 1, "data": {"values": []}, "mark": "point", "title": {"text": "D", "orient": "bottom", "anchor": "start", "frame": "group", "dx": 29, "offset": 7, "fontSize": 15}},
        {"width": 210, "height": 1, "data": {"values": []}, "mark": "point", "title": {"text": "Unstressed", "orient": "bottom", "offset": 33.9}},
        {"width": 34, "height": 1, "data": {"values": []}, "mark": "point"},
        {"width": 208, "height": 1, "data": {"values": []}, "mark": "point", "title": {"text": "Chronic", "orient": "bottom", "dx": -4, "offset": 33.9}},
        {"width": 1, "height": 51, "data": {"values": []}, "mark": "point"}
      ], "spacing": 0, "bounds": "flush"},
      {"hconcat": [
        {"width": 66, "height": 133, "data": {"values": []}, "mark": "point"},
        {"width": 210, "height": 126,
         "data": {"name": "methD"},
         "transform": [{"filter": {"field": "stress", "equal": "Unstressed"}}],
         "encoding": {"x": {"field": "strain", "type": "nominal", "scale": {"domain": ["WT", "S410A/T411A/S412A", "S425A/S426A/S429A/S430A", "S575A/S584A/S587A/S588A/S590A", "S652A/T656A/S659A/S668A", "S688A/S689A"], "paddingInner": 0.43, "paddingOuter": 0.35}, "axis": {"title": null, "labels": false, "tickSize": 4}}},
         "layer": [
           {"mark": {"type": "bar", "stroke": "#3a3a3a", "strokeWidth": 1},
            "encoding": {
              "y": {"field": "hi", "type": "quantitative", "stack": null, "scale": {"domain": [0, 110], "nice": false}, "axis": {"values": [0, 25, 50, 75, 100], "title": "Relative Methylation (%)", "tickSize": 3, "labelPadding": 2, "titlePadding": 6}},
              "y2": {"field": "lo"},
              "fill": {"field": "state", "type": "nominal", "legend": null, "scale": {"domain": ["me0", "me1", "me2", "me3"], "range": ["#f4ddfb", "#dcadec", "#b982cf", "#9c54c0"]}}
            }},
           {"mark": {"type": "rule", "color": "#000", "strokeWidth": 1}, "encoding": {"y": {"field": "hi", "type": "quantitative"}, "y2": {"field": "err"}}},
           {"mark": {"type": "tick", "color": "#000", "thickness": 1, "size": 6, "orient": "horizontal"}, "encoding": {"y": {"field": "err", "type": "quantitative"}}}
         ]},
        {"width": 34, "height": 1, "data": {"values": []}, "mark": "point"},
        {"width": 208, "height": 126,
         "encoding": {"x": {"field": "strain", "type": "nominal", "scale": {"domain": ["WT", "S410A/T411A/S412A", "S425A/S426A/S429A/S430A", "S575A/S584A/S587A/S588A/S590A", "S652A/T656A/S659A/S668A", "S688A/S689A"], "paddingInner": 0.43, "paddingOuter": 0.35}, "axis": {"title": null, "labels": false, "tickSize": 4}}},
         "layer": [
           {"data": {"name": "methD"},
            "transform": [{"filter": {"field": "stress", "equal": "Chronic"}}],
            "layer": [
              {"mark": {"type": "bar", "stroke": "#3a3a3a", "strokeWidth": 1},
               "encoding": {
                 "y": {"field": "hi", "type": "quantitative", "stack": null, "scale": {"domain": [0, 110], "nice": false}, "axis": {"values": [0, 25, 50, 75, 100], "title": null, "tickSize": 3, "labelPadding": 2}},
                 "y2": {"field": "lo"},
                 "fill": {"field": "state", "type": "nominal", "legend": null, "scale": {"domain": ["me0", "me1", "me2", "me3"], "range": ["#f4ddfb", "#dcadec", "#b982cf", "#9c54c0"]}}
               }},
              {"mark": {"type": "rule", "color": "#000", "strokeWidth": 1}, "encoding": {"y": {"field": "hi", "type": "quantitative"}, "y2": {"field": "err"}}},
              {"mark": {"type": "tick", "color": "#000", "thickness": 1, "size": 6, "orient": "horizontal"}, "encoding": {"y": {"field": "err", "type": "quantitative"}}}
            ]},
           {"data": {"name": "bracketD"}, "mark": {"type": "line", "color": "#000", "strokeWidth": 1.2},
            "encoding": {"y": {"field": "y", "type": "quantitative"}, "order": {"field": "seq", "type": "quantitative"}}},
           {"data": {"name": "sigD"}, "mark": {"type": "text", "dx": 16.6, "dy": -1, "fontSize": 10, "baseline": "alphabetic"},
            "encoding": {"y": {"field": "y", "type": "quantitative"}, "text": {"field": "label", "type": "nominal"}}}
         ]}
      ], "spacing": 0, "bounds": "flush"},
      {"hconcat": [
        {"width": 66, "height": 89, "data": {"values": []}, "mark": "point"},
        {"width": 210, "height": 61, "data": {"name": "strainsD"},
         "encoding": {"x": {"field": "strain", "type": "nominal", "scale": {"domain": ["WT", "S410A/T411A/S412A", "S425A/S426A/S429A/S430A", "S575A/S584A/S587A/S588A/S590A", "S652A/T656A/S659A/S668A", "S688A/S689A"], "paddingInner": 0, "paddingOuter": 0}, "axis": {"title": "Rph1p Tandem Site Phospho-null Strain", "labels": false, "ticks": false, "domain": false, "titlePadding": 7}}},
         "layer": [
           {"mark": {"type": "rect", "fill": "#fff", "stroke": "#9e9e9e", "strokeWidth": 1}},
           {"transform": [{"filter": {"field": "strain", "oneOf": ["WT"]}}], "mark": {"type": "text", "align": "center", "baseline": "middle", "lineBreak": "\n", "lineHeight": 9.75}, "encoding": {"text": {"field": "label", "type": "nominal"}}},
           {"transform": [{"filter": {"field": "strain", "oneOf": ["S688A/S689A"]}}], "mark": {"type": "text", "align": "center", "baseline": "middle", "lineBreak": "\n", "lineHeight": 9.75, "dy": -4.9}, "encoding": {"text": {"field": "label", "type": "nominal"}}},
           {"transform": [{"filter": {"field": "strain", "oneOf": ["S410A/T411A/S412A"]}}], "mark": {"type": "text", "align": "center", "baseline": "middle", "lineBreak": "\n", "lineHeight": 9.75, "dy": -9.75}, "encoding": {"text": {"field": "label", "type": "nominal"}}},
           {"transform": [{"filter": {"field": "strain", "oneOf": ["S425A/S426A/S429A/S430A", "S652A/T656A/S659A/S668A"]}}], "mark": {"type": "text", "align": "center", "baseline": "middle", "lineBreak": "\n", "lineHeight": 9.75, "dy": -14.6}, "encoding": {"text": {"field": "label", "type": "nominal"}}},
           {"transform": [{"filter": {"field": "strain", "oneOf": ["S575A/S584A/S587A/S588A/S590A"]}}], "mark": {"type": "text", "align": "center", "baseline": "middle", "lineBreak": "\n", "lineHeight": 9.75, "dy": -19.5}, "encoding": {"text": {"field": "label", "type": "nominal"}}}
         ]},
        {"width": 32, "height": 1, "data": {"values": []}, "mark": "point"},
        {"width": 210, "height": 61, "data": {"name": "strainsD"},
         "encoding": {"x": {"field": "strain", "type": "nominal", "scale": {"domain": ["WT", "S410A/T411A/S412A", "S425A/S426A/S429A/S430A", "S575A/S584A/S587A/S588A/S590A", "S652A/T656A/S659A/S668A", "S688A/S689A"], "paddingInner": 0, "paddingOuter": 0}, "axis": {"title": "Rph1p Tandem Site Phospho-null Strain", "labels": false, "ticks": false, "domain": false, "titlePadding": 7}}},
         "layer": [
           {"mark": {"type": "rect", "fill": "#fff", "stroke": "#9e9e9e", "strokeWidth": 1}},
           {"transform": [{"filter": {"field": "strain", "oneOf": ["WT"]}}], "mark": {"type": "text", "align": "center", "baseline": "middle", "lineBreak": "\n", "lineHeight": 9.75}, "encoding": {"text": {"field": "label", "type": "nominal"}}},
           {"transform": [{"filter": {"field": "strain", "oneOf": ["S688A/S689A"]}}], "mark": {"type": "text", "align": "center", "baseline": "middle", "lineBreak": "\n", "lineHeight": 9.75, "dy": -4.9}, "encoding": {"text": {"field": "label", "type": "nominal"}}},
           {"transform": [{"filter": {"field": "strain", "oneOf": ["S410A/T411A/S412A"]}}], "mark": {"type": "text", "align": "center", "baseline": "middle", "lineBreak": "\n", "lineHeight": 9.75, "dy": -9.75}, "encoding": {"text": {"field": "label", "type": "nominal"}}},
           {"transform": [{"filter": {"field": "strain", "oneOf": ["S425A/S426A/S429A/S430A", "S652A/T656A/S659A/S668A"]}}], "mark": {"type": "text", "align": "center", "baseline": "middle", "lineBreak": "\n", "lineHeight": 9.75, "dy": -14.6}, "encoding": {"text": {"field": "label", "type": "nominal"}}},
           {"transform": [{"filter": {"field": "strain", "oneOf": ["S575A/S584A/S587A/S588A/S590A"]}}], "mark": {"type": "text", "align": "center", "baseline": "middle", "lineBreak": "\n", "lineHeight": 9.75, "dy": -19.5}, "encoding": {"text": {"field": "label", "type": "nominal"}}}
         ]}
      ], "spacing": 0, "bounds": "flush"},
      {"hconcat": [
        {"width": 139, "height": 20, "data": {"values": []}, "mark": "point"},
        {"width": 266, "height": 20, "view": {"fill": "#000", "stroke": null},
         "data": {"values": [{"heading": "Methylation State"}]},
         "mark": {"type": "text", "color": "#fff", "align": "center", "baseline": "middle", "fontSize": 9.3},
         "encoding": {"text": {"field": "heading", "type": "nominal"}}}
      ], "spacing": 0, "bounds": "flush"},
      {"hconcat": [
        {"width": 139, "height": 25, "data": {"values": []}, "mark": "point"},
        {"width": 266, "height": 25, "view": {"fill": "#fff", "stroke": "#2f3f4a", "strokeWidth": 1.2},
         "data": {"name": "states"},
         "encoding": {"x": {"field": "state", "type": "nominal", "bandPosition": 0.326, "scale": {"type": "band", "domain": ["me0", "me1", "me2", "me3"], "paddingInner": 0, "paddingOuter": 0}, "axis": null}},
         "layer": [
           {"mark": {"type": "point", "shape": "M-0.7,-1H0.7Q1,-1,1,-0.7V0.7Q1,1,0.7,1H-0.7Q-1,1,-1,0.7V-0.7Q-1,-1,-0.7,-1Z", "size": 169, "filled": true, "opacity": 1, "stroke": "#333", "strokeWidth": 1},
            "encoding": {"fill": {"field": "state", "type": "nominal", "legend": null, "scale": {"domain": ["me0", "me1", "me2", "me3"], "range": ["#f4ddfb", "#dcadec", "#b982cf", "#9c54c0"]}}}},
           {"mark": {"type": "text", "align": "left", "baseline": "middle", "dx": 10.3, "fontSize": 8.5}, "encoding": {"text": {"field": "state", "type": "nominal"}}}
         ]}
      ], "spacing": 0, "bounds": "flush"}
    ], "spacing": 0}
  ], "spacing": 0, "resolve": {"scale": {"fill": "independent", "xOffset": "independent"}}}
],
"spacing": 0,
"resolve": {"scale": {"fill": "independent", "xOffset": "independent"}}
}
